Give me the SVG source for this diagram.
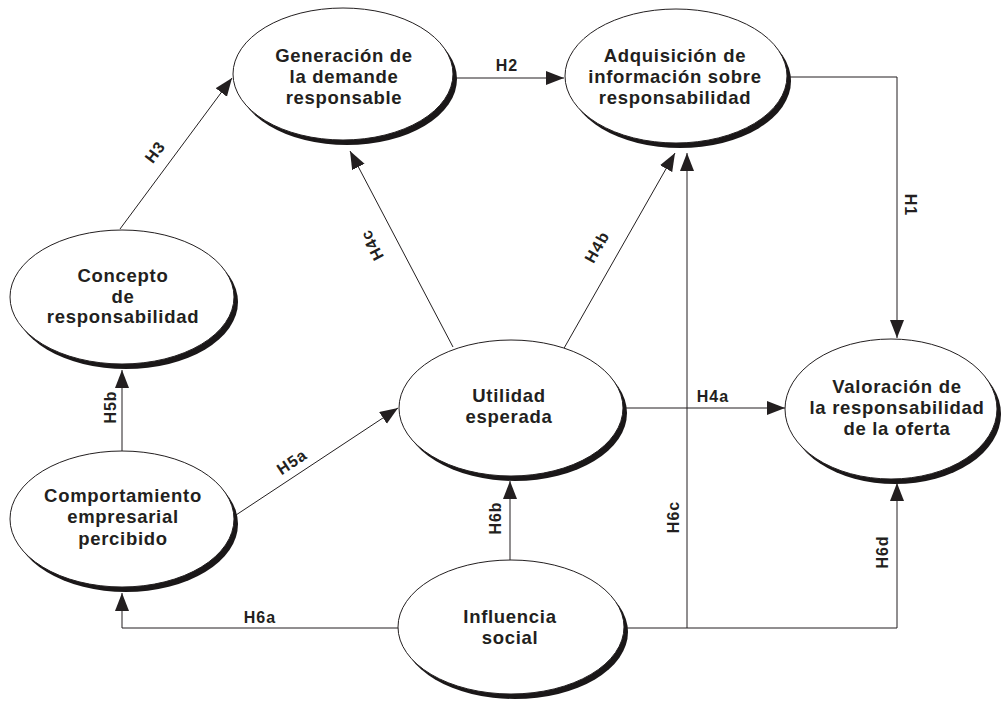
<svg xmlns="http://www.w3.org/2000/svg" width="1003" height="704" viewBox="0 0 1003 704">
  <defs>
    <marker id="arrow" markerUnits="userSpaceOnUse" markerWidth="19" markerHeight="15" refX="18" refY="7" orient="auto">
      <path d="M0,0 L18,7 L0,14 Z" fill="#231f20"/>
    </marker>
    <style>
      .shadow { fill: #1a1718; }
      .body { fill: #ffffff; stroke: #231f20; stroke-width: 1; }
      .node text { font-family: "Liberation Sans", Arial, sans-serif; font-weight: bold; font-size: 18.5px; letter-spacing: 0.7px; fill: #231f20; text-anchor: middle; }
      .edge { fill: none; stroke: #231f20; stroke-width: 1; }
      .arr { marker-end: url(#arrow); }
      .lbl { font-family: "Liberation Sans", Arial, sans-serif; font-weight: bold; font-size: 16px; letter-spacing: 1px; fill: #231f20; text-anchor: middle; }
    </style>
  </defs>

  <rect width="1003" height="704" fill="#ffffff"/>

  <!-- connectors -->
  <g id="connectors">
    <path class="edge arr" d="M120,229 L232,78"/>
    <path class="edge arr" d="M455,78 L564,78"/>
    <path class="edge arr" d="M787,77 H897 V338"/>
    <path class="edge arr" d="M453,347 L350,151"/>
    <path class="edge arr" d="M563,350 L675,153"/>
    <path class="edge arr" d="M687,628 V153"/>
    <path class="edge arr" d="M624,408 H785"/>
    <path class="edge arr" d="M236,515 L398,408"/>
    <path class="edge arr" d="M122,451 V370"/>
    <path class="edge arr" d="M399,628 H122 V593"/>
    <path class="edge arr" d="M510,560 V481"/>
    <path class="edge arr" d="M624,628 H897 V483"/>

    <text class="lbl" x="507" y="71">H2</text>
    <text class="lbl" transform="translate(155,152) rotate(-53)" y="5.5">H3</text>
    <text class="lbl" transform="translate(910,205) rotate(90)" y="5.5">H1</text>
    <text class="lbl" transform="translate(372,245) rotate(-117.6)" y="5.5">H4c</text>
    <text class="lbl" transform="translate(597,247) rotate(-60.5)" y="5.5">H4b</text>
    <text class="lbl" x="713" y="402">H4a</text>
    <text class="lbl" transform="translate(292,462) rotate(-33.8)" y="5.5">H5a</text>
    <text class="lbl" transform="translate(110,407) rotate(-90)" y="5.5">H5b</text>
    <text class="lbl" x="260" y="623">H6a</text>
    <text class="lbl" transform="translate(495,518) rotate(-90)" y="5.5">H6b</text>
    <text class="lbl" transform="translate(673,517) rotate(-90)" y="5.5">H6c</text>
    <text class="lbl" transform="translate(882,552) rotate(-90)" y="5.5">H6d</text>
  </g>

  <!-- nodes: shadow ellipse offset behind a white outlined ellipse -->
  <g id="generacion" class="node">
    <ellipse class="shadow" cx="347" cy="79" rx="110" ry="66"/>
    <ellipse class="body" cx="343" cy="74" rx="110" ry="66"/>
    <text x="344" y="62">Generación de</text>
    <text x="344" y="83">la demande</text>
    <text x="344" y="104">responsable</text>
  </g>

  <g id="adquisicion" class="node">
    <ellipse class="shadow" cx="680" cy="81" rx="111" ry="67"/>
    <ellipse class="body" cx="676" cy="76" rx="111" ry="67"/>
    <text x="675" y="62">Adquisición de</text>
    <text x="675" y="83">información sobre</text>
    <text x="675" y="104">responsabilidad</text>
  </g>

  <g id="concepto" class="node">
    <ellipse class="shadow" cx="126" cy="302" rx="112" ry="67"/>
    <ellipse class="body" cx="122" cy="297" rx="112" ry="67"/>
    <text x="123" y="282">Concepto</text>
    <text x="123" y="303">de</text>
    <text x="123" y="323">responsabilidad</text>
  </g>

  <g id="comportamiento" class="node">
    <ellipse class="shadow" cx="126" cy="524" rx="112" ry="68"/>
    <ellipse class="body" cx="122" cy="519" rx="112" ry="68"/>
    <text x="123" y="502">Comportamiento</text>
    <text x="123" y="523">empresarial</text>
    <text x="123" y="545">percibido</text>
  </g>

  <g id="utilidad" class="node">
    <ellipse class="shadow" cx="515" cy="413" rx="112" ry="68"/>
    <ellipse class="body" cx="511" cy="408" rx="112" ry="68"/>
    <text x="509" y="402">Utilidad</text>
    <text x="509" y="423">esperada</text>
  </g>

  <g id="influencia" class="node">
    <ellipse class="shadow" cx="515" cy="632" rx="113" ry="67"/>
    <ellipse class="body" cx="511" cy="627" rx="113" ry="67"/>
    <text x="510" y="623">Influencia</text>
    <text x="510" y="644">social</text>
  </g>

  <g id="valoracion" class="node">
    <ellipse class="shadow" cx="895" cy="414" rx="106" ry="70"/>
    <ellipse class="body" cx="891" cy="409" rx="106" ry="70"/>
    <text x="897" y="393">Valoración de</text>
    <text x="897" y="414">la responsabilidad</text>
    <text x="897" y="435">de la oferta</text>
  </g>
</svg>
